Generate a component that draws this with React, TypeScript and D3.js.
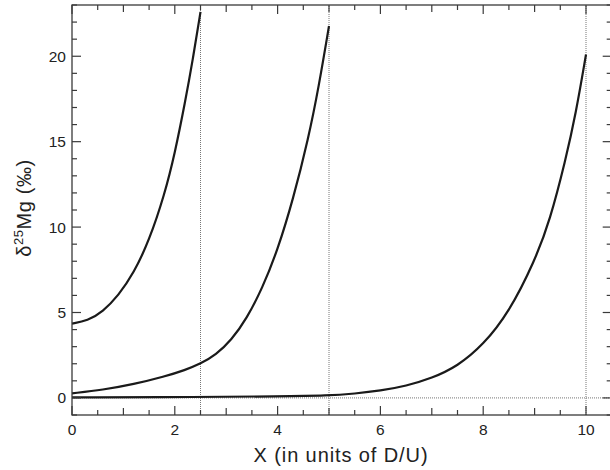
import React from "react";
import * as d3 from "d3";

const curveAX = [0, 0.3, 0.6, 0.9, 1.2, 1.5, 1.8, 2.0, 2.2, 2.35, 2.5];
const curveAY = [4.35, 4.51, 5.05, 5.98, 7.3, 9.2, 11.9, 14.3, 17.3, 19.8, 22.6];

const curveBX = [0, 0.6, 1.2, 1.8, 2.2, 2.5, 2.8, 3.1, 3.4, 3.7, 4.0, 4.3, 4.6, 4.8, 5.0];
const curveBY = [0.27, 0.47, 0.8, 1.25, 1.63, 2.0, 2.52, 3.38, 4.65, 6.4, 8.65, 11.6, 15.2, 18.2, 21.77];

const curveCX = [0, 2.5, 4.0, 5.0, 5.5, 6.0, 6.5, 7.0, 7.5, 8.0, 8.5, 9.0, 9.3, 9.6, 9.8, 10.0];
const curveCY = [0.03, 0.05, 0.09, 0.13, 0.25, 0.42, 0.7, 1.15, 1.85, 3.1, 5.0, 8.0, 10.4, 13.9, 16.6, 20.1];

const refX = [2.5, 5, 10];
const xTickLabels = [0, 2, 4, 6, 8, 10];
const yTickLabels = [0, 5, 10, 15, 20];

const W = 610;
const H = 470;
const left = 72;
const top = 5;
const bottom = 415;
const xMax = 10.5;

export default function App() {
  const x = d3.scaleLinear().domain([0, xMax]).range([left, left + 51.4 * xMax]);
  const y = d3.scaleLinear().domain([-1, 23]).range([bottom, top]);
  const right = x(xMax);

  const line = d3
    .line<[number, number]>()
    .x((d) => x(d[0]))
    .y((d) => y(d[1]))
    .curve(d3.curveBasis);

  const series = [
    curveAX.map((v, i) => [v, curveAY[i]] as [number, number]),
    curveBX.map((v, i) => [v, curveBY[i]] as [number, number]),
    curveCX.map((v, i) => [v, curveCY[i]] as [number, number]),
  ];

  const xTicks = d3.range(0, xMax + 0.001, 0.5);
  const yTicks = d3.range(-1, 23.001, 1);
  const xLen = (v: number) => (Math.abs(v % 2) < 1e-6 ? 9 : Math.abs(v % 1) < 1e-6 ? 7 : 5);
  const yLen = (v: number) => (Math.abs(v % 5) < 1e-6 ? 9 : 5);
  const axisColor = "#3a3a3a";
  const font = "'Liberation Sans', Arial, Helvetica, sans-serif";

  return (
    <svg
      width={W}
      height={H}
      style={{ position: "absolute", left: 0, top: 0, background: "#fff" }}
      fontFamily={font}
    >
      <rect x={0} y={0} width={W} height={H} fill="#fff" />
      {refX.map((v) => (
        <line
          key={"rx" + v}
          x1={x(v)}
          x2={x(v)}
          y1={y(-1)}
          y2={y(23)}
          stroke="#777"
          strokeWidth={1}
          strokeDasharray="1,1"
        />
      ))}
      <line
        x1={left}
        x2={right}
        y1={y(0)}
        y2={y(0)}
        stroke="#777"
        strokeWidth={1}
        strokeDasharray="1,1"
      />
      {series.map((s, i) => (
        <path
          key={"s" + i}
          d={line(s) || ""}
          fill="none"
          stroke="#1a1a1a"
          strokeWidth={2.2}
        />
      ))}
      <rect
        x={left}
        y={top}
        width={right - left}
        height={bottom - top}
        fill="none"
        stroke={axisColor}
        strokeWidth={1.3}
      />
      {xTicks.map((v) => (
        <g key={"xt" + v}>
          <line x1={x(v)} x2={x(v)} y1={bottom} y2={bottom - xLen(v)} stroke={axisColor} strokeWidth={1.2} />
          <line x1={x(v)} x2={x(v)} y1={top} y2={top + xLen(v)} stroke={axisColor} strokeWidth={1.2} />
        </g>
      ))}
      {yTicks.map((v) => (
        <g key={"yt" + v}>
          <line x1={left} x2={left + yLen(v)} y1={y(v)} y2={y(v)} stroke={axisColor} strokeWidth={1.2} />
          <line x1={right} x2={right - yLen(v)} y1={y(v)} y2={y(v)} stroke={axisColor} strokeWidth={1.2} />
        </g>
      ))}
      {xTickLabels.map((v) => (
        <text key={"xl" + v} x={x(v)} y={435} textAnchor="middle" fontSize={15.5} fill="#222">
          {v}
        </text>
      ))}
      {yTickLabels.map((v) => (
        <text key={"yl" + v} x={66} y={y(v) + 5.5} textAnchor="end" fontSize={15.5} fill="#222">
          {v}
        </text>
      ))}
      <text x={341} y={462} textAnchor="middle" fontSize={20} letterSpacing={0.9} fill="#222">
        X (in units of D/U)
      </text>
      <text
        transform={`translate(31, 208) rotate(-90)`}
        textAnchor="middle"
        fontSize={20}
        letterSpacing={0.6}
        fill="#222"
      >
        δ
        <tspan fontSize={13} dy={-8}>25</tspan>
        <tspan dy={8}>Mg (‰)</tspan>
      </text>
    </svg>
  );
}
